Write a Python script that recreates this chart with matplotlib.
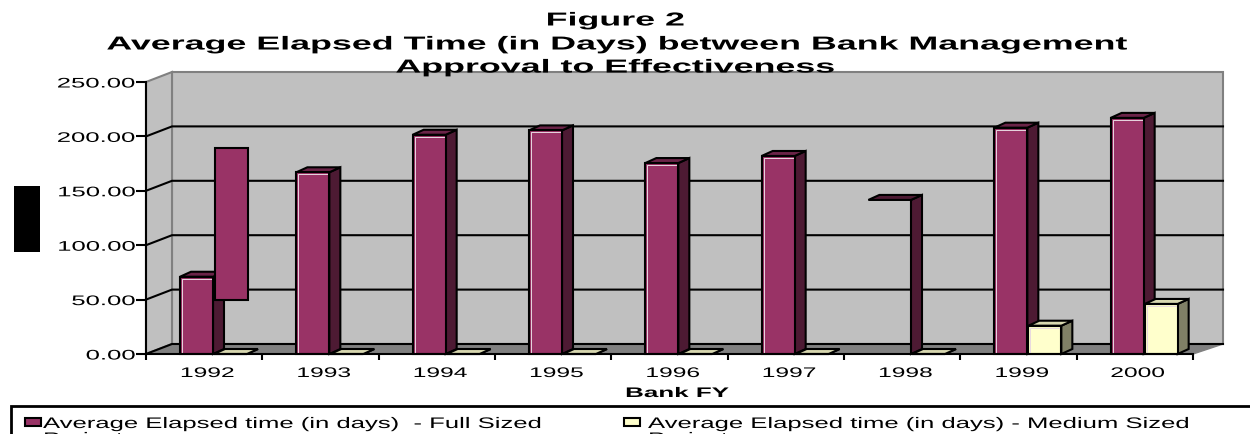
import matplotlib
matplotlib.use("Agg")
import matplotlib.pyplot as plt
from matplotlib.patches import Polygon, Rectangle
from matplotlib.patheffects import AbstractPathEffect
from matplotlib.transforms import Affine2D

years = ["1992", "1993", "1994", "1995", "1996", "1997", "1998", "1999", "2000"]
full_sized = [71, 167, 201.5, 205.5, 175.5, 182, 141.6, 208, 217]
medium_sized = [0, 0, 0, 0, 0, 0, 0, 26, 46]
detached_year = "1998"
detached_host = "1992"
detached_low, detached_high = 50, 189
y_ticks = [0, 50, 100, 150, 200, 250]
title_lines = ["Figure 2",
               "Average Elapsed Time (in Days) between Bank Management",
               "Approval to Effectiveness"]
legend_labels = ["Average Elapsed time (in days)  - Full Sized",
                 "Average Elapsed time (in days) - Medium Sized"]
legend_second = "Projects"

W, H = 1250, 434
L, R, B, T = 146, 1193, 354, 82
PURPLE, PURPLE_DK, PURPLE_TOP = "#993366", "#4d1a33", "#6b2448"
YEL, YEL_SIDE, YEL_TOP = "#ffffcc", "#808066", "#d8d8b0"


class Stretch(AbstractPathEffect):
    """Widen a text horizontally about its alignment anchor."""
    def __init__(self, text, sx):
        super().__init__()
        self.text, self.sx = text, sx

    def draw_path(self, renderer, gc, tpath, affine, rgbFace=None):
        bb = self.text.get_window_extent(renderer)
        ha = self.text.get_horizontalalignment()
        a = {"left": bb.x0, "right": bb.x1}.get(ha, (bb.x0 + bb.x1) / 2)
        tr = affine + Affine2D().translate(-a, 0).scale(self.sx, 1).translate(a, 0)
        renderer.draw_path(gc, tpath, tr, rgbFace)


def stretch(t, sx):
    t.set_path_effects([Stretch(t, sx)])
    return t


plt.rcParams["font.family"] = ["Liberation Sans", "DejaVu Sans"]
fig = plt.figure(figsize=(W / 100, H / 100), dpi=100, facecolor="white")
ax = fig.add_axes([L / W, (H - B) / H, (R - L) / W, (B - T) / H])
ax.set_xlim(0, len(years))
ax.set_ylim(0, 250)
ax.patch.set_visible(False)

px = len(years) / (R - L)   # data x per pixel
py = 250 / (B - T)          # data y per pixel
n = len(years)
wx, wy = 26 * px, 10 * py   # wall depth
wxr = 30 * px


def poly(pts, fc, ec="black", lw=1.5, z=3):
    ax.add_patch(Polygon(pts, closed=True, facecolor=fc, edgecolor=ec, linewidth=lw,
                         zorder=z, clip_on=False, joinstyle="miter"))


# walls and floor
poly([(wx, wy), (n + wxr, wy), (n + wxr, 250 + wy), (wx, 250 + wy)], "#c0c0c0", "#808080", 1.5, 1)
poly([(0, 0), (wx, wy), (wx, 250 + wy), (0, 250)], "#c0c0c0", "#808080", 1.5, 1)
poly([(0, 0), (n, 0), (n + wxr, wy), (wx, wy)], "#808080", "#808080", 1, 1.1)
for v in y_ticks[:-1]:
    ax.plot([0, wx, n + wxr], [v, v + wy, v + wy], color="black", lw=1.5, zorder=1.5,
            clip_on=False, solid_joinstyle="miter")

# bars
bw = 33 * px
off = 34 * px
bdx, bdy = 11 * px, 5 * py


def bar3d(x0, v, front, side, top, show_front=True, z=3):
    x1 = x0 + bw
    poly([(x1, 0), (x1 + bdx, bdy), (x1 + bdx, v + bdy), (x1, v)], side, z=z)
    if show_front:
        poly([(x0, v), (x1, v), (x1 + bdx, v + bdy), (x0 + bdx, v + bdy)], top, z=z)
        poly([(x0, 0), (x1, 0), (x1, v), (x0, v)], front, z=z + 0.01)
        if v > 5:
            ax.plot([x0 + 2 * px, x0 + 2 * px, x1 - 2 * px],
                    [0, v - 2 * py, v - 2 * py], color="#e8d8e0", lw=0.7, zorder=z + 0.02,
                    clip_on=False)
    else:
        poly([(x0 + 2 * px - 0.1, v), (x1, v), (x1 + bdx, v + bdy), (x0 + 2 * px - 0.1 + bdx, v + bdy)],
             side, z=z)


for i, y in enumerate(years):
    z = 3 + i * 0.1
    bar3d(i + off, full_sized[i], PURPLE, PURPLE_DK, PURPLE_TOP, show_front=y != detached_year, z=z)
    bar3d(i + off + bw + 1 * px, medium_sized[i], YEL, YEL_SIDE, YEL_TOP, z=z + 0.05)

# front face of the 1998 bar, displaced in the source chart
xd = years.index(detached_host) + off + bw + 2 * px
poly([(xd, detached_low), (xd + bw, detached_low), (xd + bw, detached_high), (xd, detached_high)],
     PURPLE, z=6)

# axes
for s in ("top", "right"):
    ax.spines[s].set_visible(False)
for s in ("left", "bottom"):
    ax.spines[s].set_linewidth(1.5)
    ax.spines[s].set_zorder(5)
ax.set_yticks(y_ticks, [f"{v:.2f}" for v in y_ticks])
ax.set_xticks(range(n + 1))
ax.set_xticklabels([])
ax.tick_params(axis="y", length=7.5, width=1.5, pad=0, labelsize=10)
ax.tick_params(axis="x", length=4.5, width=1.5)
for t in ax.get_yticklabels():
    stretch(t, 1.85)
for i, y in enumerate(years):
    stretch(ax.text(i + 0.5 + 3 * px, -19 * py, y, ha="center", va="center", fontsize=10, clip_on=False), 1.77)

stretch(fig.text(677 / W, 1 - 393 / H, "Bank FY", ha="center", va="center", fontsize=10,
                 fontweight="bold"), 1.87)

for line, yp in zip(title_lines, (21, 45, 68)):
    t = fig.text(615 / W, 1 - yp / H, line, ha="center", va="center", fontsize=13.5, fontweight="bold",
                 zorder=20)
    stretch(t, 1.91)

# black block over the y axis title
fig.add_artist(Rectangle((14 / W, 1 - 252 / H), 26 / W, 66 / H, transform=fig.transFigure,
                         facecolor="black", edgecolor="none"))

# legend
fig.add_artist(Rectangle((11 / W, 1 - 450 / H), 1300 / W, 44 / H, transform=fig.transFigure,
                         facecolor="white", edgecolor="black", linewidth=2))
for x_s, x_t, col, lab in zip((25, 624), (43, 648), (PURPLE, YEL), legend_labels):
    fig.add_artist(Rectangle((x_s / W, 1 - 426 / H), 16 / W, 8 / H, transform=fig.transFigure,
                             facecolor=col, edgecolor="black", linewidth=1.5))
    stretch(fig.text(x_t / W, 1 - 424 / H, lab, ha="left", va="center", fontsize=11), 1.68)
    stretch(fig.text(x_t / W, 1 - 439 / H, legend_second, ha="left", va="center", fontsize=11), 1.68)

fig.savefig("out.png", dpi=100)
